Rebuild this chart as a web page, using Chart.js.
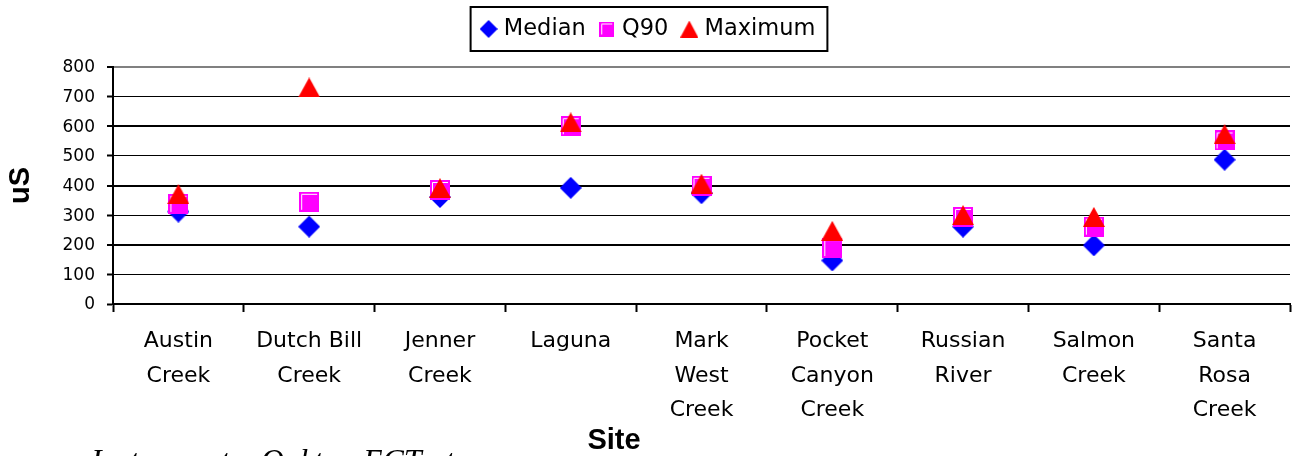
<!DOCTYPE html>
<html>
<head>
<meta charset="utf-8">
<title>Conductivity by site</title>
<script src="https://cdn.jsdelivr.net/npm/chart.js@4.4.1/dist/chart.umd.min.js"></script>
<style>
  body { margin: 0; background: #fff; }
  #wrap { width: 1292px; height: 456px; position: relative; }
</style>
</head>
<body>
<div id="wrap"><canvas id="chart"></canvas></div>
<script>
let sites = [
    ["Austin", "Creek"], ["Dutch Bill", "Creek"], ["Jenner", "Creek"], ["Laguna"],
    ["Mark", "West", "Creek"], ["Pocket", "Canyon", "Creek"], ["Russian", "River"],
    ["Salmon", "Creek"], ["Santa", "Rosa", "Creek"]
];
let median  = [312, 261, 361, 392, 374, 147, 261, 198, 487];
let q90     = [338, 345, 385, 600, 399, 189, 294, 261, 552];
let maximum = [371, 731, 391, 613, 406, 247, 300, 294, 573];
let seriesNames = ["Median", "Q90", "Maximum"];
let yMin = 0, yMax = 800, yStep = 100;
let xTitle = "Site";
let yTitle = "uS";
let note = "Instruments: Oakton ECTestr";

function newCanvas(w, h) {
    let c = document.createElement("canvas");
    c.width = w;
    c.height = h;
    return c;
}

// magenta square with the white inner corner line
function squareMark(size) {
    let c = newCanvas(size, size);
    let g = c.getContext("2d");
    g.fillStyle = "#ff00ff";
    g.fillRect(0, 0, size, size);
    g.strokeStyle = "#ffffff";
    g.lineWidth = 1;
    g.beginPath();
    g.moveTo(2.5, size - 2);
    g.lineTo(2.5, 2.5);
    g.lineTo(size - 2, 2.5);
    g.stroke();
    return c;
}

function triangleMark(w, h) {
    let c = newCanvas(w, h);
    let g = c.getContext("2d");
    g.fillStyle = "#ff0000";
    g.beginPath();
    g.moveTo(w / 2, 0);
    g.lineTo(w, h);
    g.lineTo(0, h);
    g.closePath();
    g.fill();
    return c;
}

function diamondMark(s) {
    let c = newCanvas(s, s);
    let g = c.getContext("2d");
    g.fillStyle = "#0000ff";
    g.beginPath();
    g.moveTo(s / 2, 0);
    g.lineTo(s, s / 2);
    g.lineTo(s / 2, s);
    g.lineTo(0, s / 2);
    g.closePath();
    g.fill();
    return c;
}

let chartMarks = [diamondMark(22), squareMark(20), triangleMark(22, 20)];
let legendMarks = [diamondMark(18), squareMark(15), triangleMark(18, 17)];

let extras = {
    id: "extras",
    afterLayout(chart) {
        // pull the legend up to the top of the picture
        let lg = chart.legend;
        let dy = lg.top - 0.75;
        lg.top -= dy;
        lg.bottom -= dy;
        lg.left += 5;
        lg.right += 5;
    },
    afterDraw(chart) {
        let ctx = chart.ctx;
        let boxes = chart.legend.legendHitBoxes;
        ctx.save();

        if (boxes && boxes.length) {
            let first = boxes[0], last = boxes[boxes.length - 1];
            let mid = first.top + first.height / 2;
            ctx.strokeStyle = "#000";
            ctx.lineWidth = 2;
            ctx.strokeRect(first.left - 14, mid - 22, last.left + last.width + 12 - (first.left - 14), 44);
        }

        ctx.fillStyle = "#000";
        ctx.font = "bold 29px 'Liberation Sans'";
        ctx.textAlign = "center";
        ctx.textBaseline = "alphabetic";
        ctx.fillText(xTitle, 614, 449);

        ctx.font = "italic 32px 'Liberation Serif'";
        ctx.textAlign = "left";
        ctx.fillText(note, 91, 471);
        ctx.restore();
    }
};

Chart.defaults.font.family = "'DejaVu Sans'";
Chart.defaults.color = "#000";

let ctx = document.getElementById("chart").getContext("2d");

new Chart(ctx, {
    type: "line",
    data: {
        labels: sites,
        datasets: [
            { label: seriesNames[0], data: median, pointStyle: chartMarks[0], order: 2 },
            { label: seriesNames[1], data: q90, pointStyle: chartMarks[1], order: 1 },
            { label: seriesNames[2], data: maximum, pointStyle: chartMarks[2], order: 0 }
        ].map(d => Object.assign(d, { showLine: false, pointRadius: 11, pointHoverRadius: 11 }))
    },
    options: {
        responsive: true,
        maintainAspectRatio: false,
        animation: false,
        layout: { autoPadding: false, padding: { right: 2 } },
        plugins: {
            tooltip: { enabled: false },
            legend: {
                position: "top",
                labels: {
                    usePointStyle: true,
                    boxWidth: 8,
                    padding: 17,
                    color: "#000",
                    font: { size: 22.5 },
                    sort: (a, b) => a.datasetIndex - b.datasetIndex,
                    generateLabels: function (chart) {
                        let items = Chart.defaults.plugins.legend.labels.generateLabels(chart);
                        items.forEach(it => it.pointStyle = legendMarks[it.datasetIndex]);
                        return items;
                    }
                }
            }
        },
        scales: {
            x: {
                offset: true,
                grid: {
                    offset: true,
                    drawOnChartArea: false,
                    tickLength: 8,
                    tickColor: "#000",
                    tickWidth: 2
                },
                border: { color: "#000", width: 2 },
                ticks: {
                    autoSkip: false,
                    maxRotation: 0,
                    padding: 12,
                    font: { size: 22, lineHeight: 1.57 }
                },
                afterFit: s => {
                    s.height = 152;
                    s.paddingLeft = 0;
                    s.paddingRight = 0;
                }
            },
            y: {
                min: yMin,
                max: yMax,
                ticks: { stepSize: yStep, padding: 12, font: { size: 17 }, labelOffset: 1 },
                grid: {
                    color: c => c.tick.value === yMax ? "#808080" : "#000",
                    lineWidth: c => (c.tick.value === yMax || (c.tick.value % 200 === 0 && c.tick.value > 0)) ? 2 : 1,
                    tickLength: 6,
                    tickColor: "#000",
                    tickWidth: 2
                },
                border: { color: "#000", width: 2 },
                title: {
                    display: true,
                    text: yTitle,
                    color: "#000",
                    padding: { top: 4 },
                    font: { family: "'Liberation Sans'", size: 29, weight: "bold" }
                },
                afterFit: s => {
                    s.width = 113;
                    s.paddingTop = 67;
                }
            }
        }
    },
    plugins: [extras]
});
</script>
</body>
</html>
